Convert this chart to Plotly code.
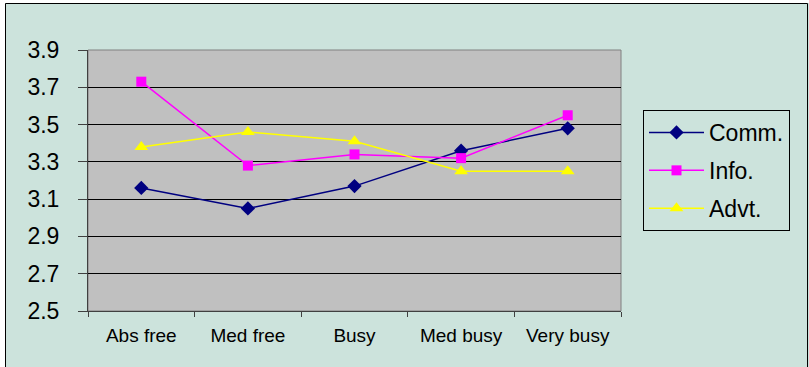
import plotly.graph_objects as go

categories = ["Abs free", "Med free", "Busy", "Med busy", "Very busy"]
comm = [3.16, 3.05, 3.17, 3.36, 3.48]
info = [3.73, 3.28, 3.34, 3.32, 3.55]
advt = [3.38, 3.46, 3.41, 3.25, 3.25]
y_ticks = [2.5, 2.7, 2.9, 3.1, 3.3, 3.5, 3.7, 3.9]

W, H = 809, 367
L, R, T, B = 88, 188, 50, 56
pw, ph = W - L - R, H - T - B


def px_x(x):
    return (x - L) / pw


def px_y(y):
    return (H - B - y) / ph


fig = go.Figure()
fig.add_trace(go.Scatter(
    x=categories, y=comm, name="Comm.", mode="lines+markers", legendgroup="c",
    line=dict(color="#000080", width=1.5),
    marker=dict(symbol="diamond", size=11, color="#000080"),
))
fig.add_trace(go.Scatter(
    x=categories, y=info, name="Info.", mode="lines+markers", legendgroup="i",
    line=dict(color="#FF00FF", width=1.5),
    marker=dict(symbol="square", size=10, color="#FF00FF"),
))
fig.add_trace(go.Scatter(
    x=categories, y=advt, name="Advt.", mode="lines+markers", legendgroup="a",
    line=dict(color="#FFFF00", width=1.5),
    marker=dict(symbol="triangle-up", size=12, color="#FFFF00"),
))

font_family = "Liberation Sans, Arial, sans-serif"

fig.update_layout(
    width=W, height=H,
    margin=dict(l=L, r=R, t=T, b=B, autoexpand=False),
    paper_bgcolor="#CCE3DC",
    plot_bgcolor="#C0C0C0",
    font=dict(family=font_family, color="black"),
    showlegend=True,
    legend=dict(
        x=px_x(643), y=px_y(110), xanchor="left", yanchor="top",
        bgcolor="#CCE3DC", bordercolor="black", borderwidth=1,
        font=dict(size=23, family=font_family),
        itemwidth=55, tracegroupgap=5,
    ),
    xaxis=dict(
        type="category", range=[-0.5, 4.5],
        showgrid=False, tickson="boundaries",
        ticks="outside", ticklen=5, tickcolor="#404040",
        showline=True, linecolor="#404040", linewidth=1,
        tickfont=dict(size=19), ticklabelstandoff=7,
        mirror=False,
    ),
    yaxis=dict(
        range=[2.5, 3.9], tickvals=y_ticks,
        ticktext=[f"{v:.1f}" for v in y_ticks],
        showgrid=True, gridcolor="black", gridwidth=1,
        ticks="outside", ticklen=9, tickcolor="#404040",
        showline=True, linecolor="#404040", linewidth=1,
        tickfont=dict(size=23), ticklabelstandoff=14,
        zeroline=False,
    ),
    shapes=[
        # plot frame on top/right
        dict(type="rect", xref="paper", yref="paper", x0=0, x1=1, y0=0, y1=1,
             line=dict(color="#808080", width=1), layer="below"),
        # white strips outside the chart border
        dict(type="rect", xref="paper", yref="paper",
             x0=px_x(-5), x1=px_x(5), y0=px_y(H + 5), y1=px_y(-5),
             fillcolor="white", line=dict(width=0)),
        dict(type="rect", xref="paper", yref="paper",
             x0=px_x(-5), x1=px_x(W + 5), y0=px_y(3), y1=px_y(-5),
             fillcolor="white", line=dict(width=0)),
        # chart border
        dict(type="rect", xref="paper", yref="paper",
             x0=px_x(5.5), x1=px_x(807.5), y0=px_y(H + 5), y1=px_y(3.5),
             line=dict(color="black", width=1)),
    ],
)

fig.write_html("out.html")
